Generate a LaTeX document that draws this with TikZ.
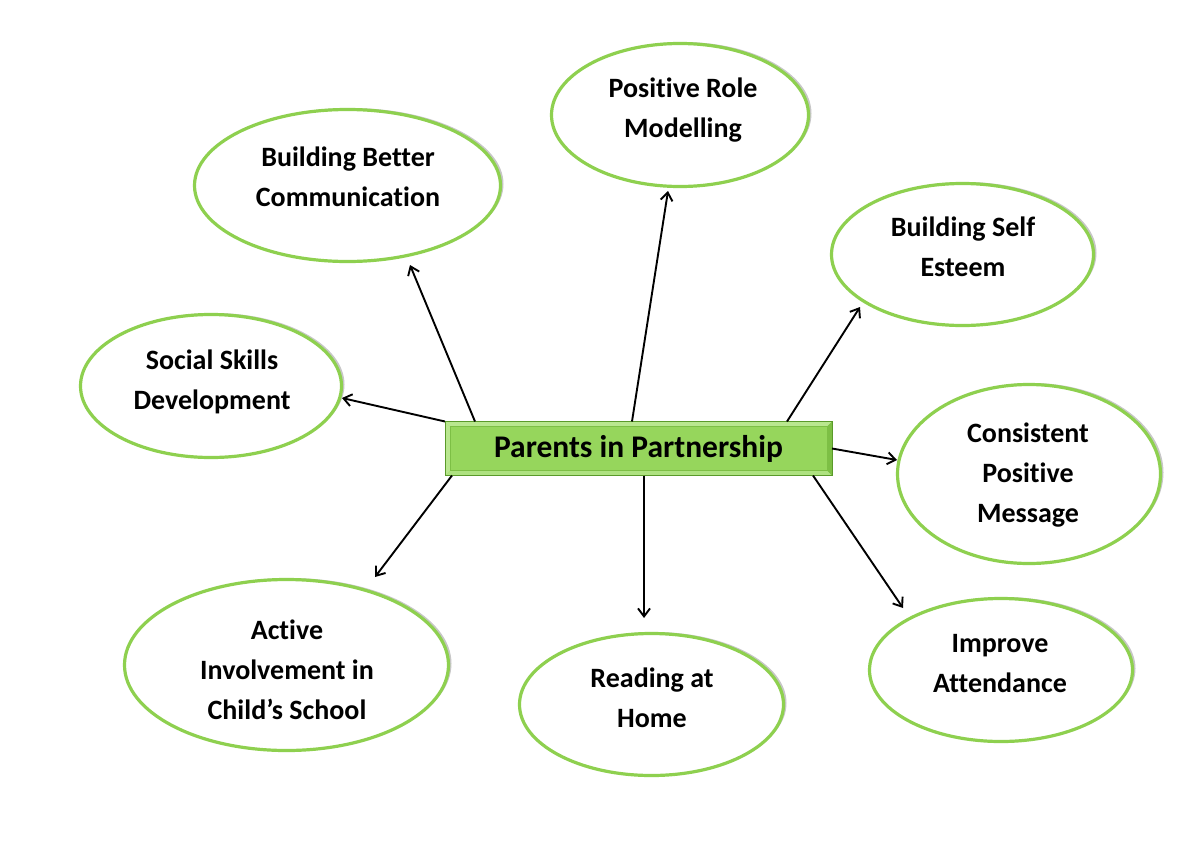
\documentclass[tikz,border=0pt]{standalone}
\usepackage{fontspec}
\setmainfont{Carlito}[Ligatures=NoCommon]
\usetikzlibrary{shapes.geometric,arrows.meta,shadows,calc}
\definecolor{ringgreen}{HTML}{8ED04F}
\definecolor{boxgreen}{HTML}{96D65C}
\definecolor{boxlight}{HTML}{B9E78F}
\definecolor{boxmid}{HTML}{7DBF45}
\definecolor{boxdark}{HTML}{5A9A2A}
\begin{document}
\begin{tikzpicture}[x=1pt,y=-1pt,
  bubble/.style={ellipse,draw=ringgreen,line width=3.2pt,fill=white,inner sep=0pt,
    drop shadow={shadow xshift=3pt,shadow yshift=1.5pt,opacity=0.22,fill=black}},
  bubbletext/.style={align=center,font=\fontsize{28}{40}\selectfont\bfseries,inner sep=0pt},
  link/.style={line width=1.9pt,-{Straight Barb[length=8pt,width=12pt,line width=1.9pt]}}
]
\useasboundingbox[fill=white] (0,0) rectangle (1200,849);

% central box
\node[rectangle,draw=boxdark,line width=1pt,fill=boxgreen,minimum width=386pt,minimum height=53pt,
      inner sep=0pt,font=\fontsize{31.5}{36}\selectfont\bfseries] (box) at (638.5,448.5) {Parents in Partnership};
\fill[boxlight] (box.north west) -- (box.north east) -- ($(box.north east)+(-5,5)$) -- ($(box.north west)+(5,5)$) -- cycle;
\fill[boxlight] (box.north west) -- ($(box.north west)+(5,5)$) -- ($(box.south west)+(5,-5)$) -- (box.south west) -- cycle;
\fill[boxlight!70!boxgreen] (box.south west) -- ($(box.south west)+(5,-5)$) -- ($(box.south east)+(-5,-5)$) -- (box.south east) -- cycle;
\fill[boxmid] (box.north east) -- ($(box.north east)+(-5,5)$) -- ($(box.south east)+(-5,-5)$) -- (box.south east) -- cycle;
\draw[boxdark,line width=1pt] (box.north west) rectangle (box.south east);
\draw[boxmid,line width=0.6pt] ($(box.north west)+(5,5)$) rectangle ($(box.south east)+(-5,-5)$);

% ellipses
\node[bubble,minimum width=257pt,minimum height=143pt] (pos) at (680,115) {};
\node[bubble,minimum width=306pt,minimum height=152pt] (comm) at (347.5,185.5) {};
\node[bubble,minimum width=262pt,minimum height=142pt] (self) at (962.5,254.5) {};
\node[bubble,minimum width=261pt,minimum height=143pt] (social) at (211,386) {};
\node[bubble,minimum width=263pt,minimum height=179pt] (cons) at (1029,474) {};
\node[bubble,minimum width=324pt,minimum height=171pt] (active) at (286.5,665) {};
\node[bubble,minimum width=264pt,minimum height=142pt] (read) at (651.5,704.5) {};
\node[bubble,minimum width=263pt,minimum height=143pt] (impr) at (1001,670) {};

% texts
\node[bubbletext] (tpos) at (683,109) {\strut Positive Role\\Modelling\strut};
\node[bubbletext] (tcomm) at (348,178) {\strut Building Better\\Communication\strut};
\node[bubbletext] (tself) at (963,248) {\strut Building Self\\Esteem\strut};
\node[bubbletext] (tsocial) at (212,381) {\strut Social Skills\\Development\strut};
\node[bubbletext] (tcons) at (1028,474) {\strut Consistent\\Positive\\Message\strut};
\node[bubbletext] (tactive) at (287,671) {\strut Active\\Involvement in\\Child’s School\strut};
\node[bubbletext] (tread) at (652,699) {\strut Reading at\\Home\strut};
\node[bubbletext] (timpr) at (1000,664) {\strut Improve\\Attendance\strut};

% arrow tips
\coordinate (kcomm) at (410,265);
\coordinate (kpos) at (668,191);
\coordinate (kself) at (860,307);
\coordinate (ksocial) at (342,398);
\coordinate (kcons) at (897,460);
\coordinate (kactive) at (375,577);
\coordinate (kread) at (644,618);
\coordinate (kimpr) at (903,608);

% arrows
\draw[link] ($(box.north west)+(30,0)$) -- (kcomm);
\draw[link] ($(box.north west)+(187,0)$) -- (kpos);
\draw[link] ($(box.north west)+(342,0)$) -- (kself);
\draw[link] (box.north west) -- (ksocial);
\draw[link] (box.east) -- (kcons);
\draw[link] ($(box.south west)+(7,0)$) -- (kactive);
\draw[link] ($(box.south west)+(199,0)$) -- (kread);
\draw[link] ($(box.south west)+(368,0)$) -- (kimpr);
\end{tikzpicture}
\end{document}
